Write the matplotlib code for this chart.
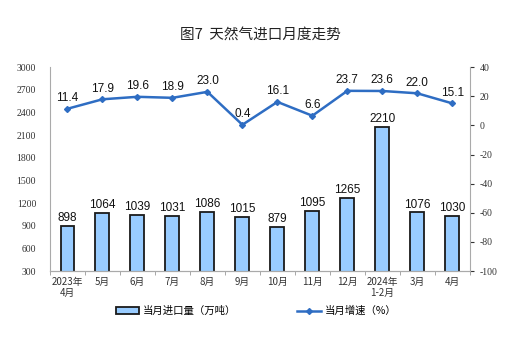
import matplotlib.pyplot as plt
import numpy as np

plt.rcParams['font.family'] = ['Noto Sans CJK SC', 'DejaVu Sans']
plt.rcParams['axes.unicode_minus'] = False

months = ['2023年\n4月', '5月', '6月', '7月', '8月', '9月', '10月', '11月', '12月',
          '2024年\n1-2月', '3月', '4月']
imports = [898, 1064, 1039, 1031, 1086, 1015, 879, 1095, 1265, 2210, 1076, 1030]
growth = [11.4, 17.9, 19.6, 18.9, 23.0, 0.4, 16.1, 6.6, 23.7, 23.6, 22.0, 15.1]

fig = plt.figure(figsize=(5.32, 3.44), dpi=100)
ax = fig.add_axes([0.094, 0.212, 0.789, 0.593])
ax2 = ax.twinx()

x = np.arange(len(months))
bars = ax.bar(x, imports, width=0.4, bottom=0, color='#99CCFF', edgecolor='#1A1A1A',
              linewidth=1.3, label='当月进口量（万吨）', zorder=2)
for xi, v in zip(x, imports):
    ax.text(xi, v + 25, str(v), ha='center', va='bottom', fontsize=8.5, color='#111111',
            family='Liberation Sans')

line, = ax2.plot(x, growth, color='#2E6DC3', linewidth=1.8, marker='D', markersize=3,
                 label='当月增速（%）')
for xi, v in zip(x, growth):
    ax2.text(xi, v + 3.2, f'{v:.1f}', ha='center', va='bottom', fontsize=8.5,
             color='#111111', family='Liberation Sans')

ax.set_ylim(300, 3000)
ax.set_yticks(range(300, 3001, 300))
ax2.set_ylim(-100, 40)
ax2.set_yticks(range(-100, 41, 20))
ax.set_xlim(-0.5, len(months) - 0.5)
ax.set_xticks(x)
ax.set_xticklabels(months, fontsize=7, color='#333333')
ax.tick_params(axis='x', length=0, pad=4)
ax.set_xticks(np.arange(-0.5, len(months), 1), minor=True)
ax.tick_params(axis='x', which='minor', length=3, color='#999999')
ax.tick_params(axis='y', length=0, labelsize=7, colors='#333333', pad=10)
ax2.tick_params(axis='y', length=3, labelsize=7, colors='#333333', pad=4)
for lab in ax.get_yticklabels() + ax2.get_yticklabels():
    lab.set_family('Liberation Serif')

for a in (ax, ax2):
    a.spines['top'].set_visible(False)
    for s in ('left', 'right', 'bottom'):
        a.spines[s].set_color('#AAAAAA')
ax.spines['right'].set_visible(False)
ax2.spines['left'].set_visible(False)

fig.text(0.489, 0.898, '图7  天然气进口月度走势', ha='center', va='center', fontsize=10.5,
         color='#222222', fontweight='medium')
fig.legend(handles=[bars, line], loc='center', bbox_to_anchor=(0.481, 0.096), ncol=2,
           frameon=False, fontsize=7.5, handlelength=2.3, handleheight=0.6,
           columnspacing=5.9, handletextpad=0.3)

fig.savefig('out.png', dpi=100)
